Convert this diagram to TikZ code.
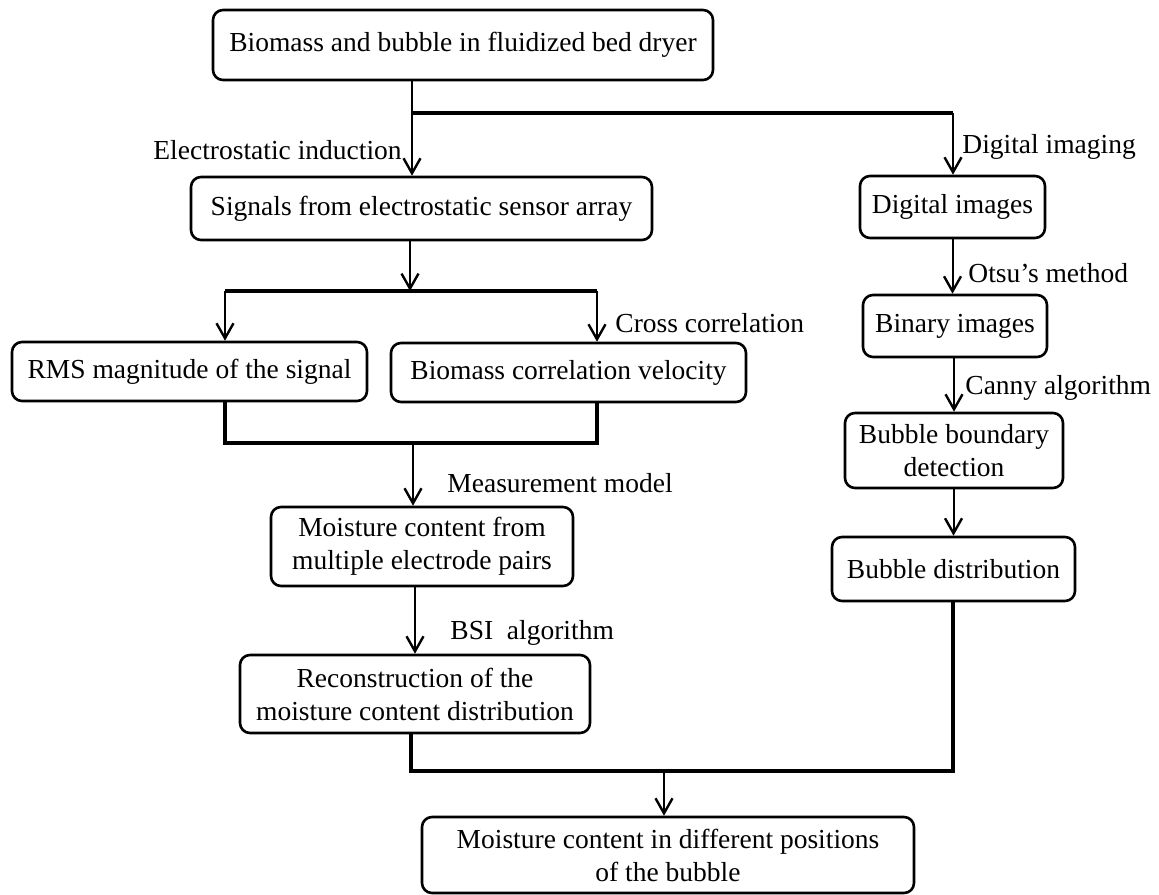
\documentclass[tikz,border=0pt]{standalone}
\usepackage{fontspec}
\setmainfont{Liberation Serif}
\usetikzlibrary{arrows.meta,positioning,calc}
\tikzset{
  doboz/.style={draw,line width=1.3pt,rounded corners=5pt,align=center,inner sep=0pt},
  nyil/.style={-{Straight Barb[length=7.5pt,width=8.5pt,line width=1.2pt]},line width=1pt},
  vastag/.style={line width=1.6pt},
  felirat/.style={inner sep=0pt},
}
\begin{document}
\begin{tikzpicture}[x=0.5pt,y=-0.5pt,font=\fontsize{13.75}{16.5}\selectfont]
  \useasboundingbox (0,0) rectangle (1159,894);
  % dobozok
  \node[doboz,minimum width=250pt,minimum height=35pt] (forras) at (463,45) {Biomass and bubble in fluidized bed dryer};
  \node[doboz,minimum width=230.5pt,minimum height=31.5pt] (jel) at (421.5,208.5) {Signals from electrostatic sensor array};
  \node[doboz,minimum width=177.5pt,minimum height=29.5pt] (rms) at (189.5,371.5) {RMS magnitude of the signal};
  \node[doboz,minimum width=177.5pt,minimum height=29.5pt] (seb) at (568.5,372.5) {Biomass correlation velocity};
  \node[doboz,minimum width=151pt,minimum height=39.5pt] (ned) at (422,546.5) {Moisture content from\\multiple electrode pairs};
  \node[doboz,minimum width=175pt,minimum height=39pt] (rek) at (415,694) {Reconstruction of the\\moisture content distribution};
  \node[doboz,minimum width=92.5pt,minimum height=31pt] (kep) at (952.5,207) {Digital images};
  \node[doboz,minimum width=92pt,minimum height=31pt] (bin) at (955,326) {Binary images};
  \node[doboz,minimum width=109pt,minimum height=37.5pt] (hatar) at (954,450.5) {Bubble boundary\\detection};
  \node[doboz,minimum width=121.5pt,minimum height=32pt] (eloszl) at (953.5,569) {Bubble distribution};
  \node[doboz,minimum width=246pt,minimum height=38pt] (vegso) at (668,855) {Moisture content in different positions\\of the bubble};
  % elagazasi pontok
  \coordinate (el1) at (412,113);
  \coordinate (el2) at (953,113);
  \coordinate (el0) at (410,291);
  \coordinate (el3) at (225,291);
  \coordinate (el4) at (597,291);
  \coordinate (gy1) at (225,443);
  \coordinate (gy2) at (597,443);
  \coordinate (gy0) at (413,443);
  \coordinate (gy3) at (411,771);
  \coordinate (gy4) at (953,771);
  \coordinate (gy5) at (664,771);
  % bal ag
  \draw[line width=1pt] (forras.south -| el1) -- (el1);
  \draw[vastag] (el1) -- (el2);
  \draw[nyil] (el1) -- (jel.north -| el1);
  \draw[nyil] (jel.south -| el0) -- (el0);
  \draw[vastag] (el3) -- (el4);
  \draw[nyil] (el3) -- (rms.north -| el3);
  \draw[nyil] (el4) -- (seb.north -| el4);
  \draw[vastag] (rms.south -| gy1) -- (gy1) -- (gy2) -- (seb.south -| gy2);
  \draw[nyil] (gy0) -- (ned.north -| gy0);
  \draw[nyil] (ned.south -| rek.north) -- (rek.north);
  % jobb ag
  \draw[nyil] (el2) -- (kep.north -| el2);
  \draw[nyil] (kep.south) -- (kep.south |- bin.north);
  \draw[nyil] (bin.south -| hatar.north) -- (hatar.north);
  \draw[nyil] (hatar.south -| eloszl.north) -- (eloszl.north);
  % osszevonas
  \draw[vastag] (rek.south -| gy3) -- (gy3) -- (gy4) -- (eloszl.south -| gy4);
  \draw[nyil] (gy5) -- (vegso.north -| gy5);
  % feliratok
  \node[felirat,anchor=east] (t1) at (402,150) {Electrostatic induction};
  \node[felirat,anchor=west] (t2) at (962,147) {Digital imaging};
  \node[felirat,anchor=west] (t3) at (615,323) {Cross correlation};
  \node[felirat,anchor=west] (t4) at (968,273) {Otsu's method};
  \node[felirat,anchor=west] (t5) at (965,388) {Canny algorithm};
  \node[felirat,anchor=west] (t6) at (447,483) {Measurement model};
  \node[felirat,anchor=west] (t7) at (450,633) {BSI\ \ algorithm};
\end{tikzpicture}
\end{document}
